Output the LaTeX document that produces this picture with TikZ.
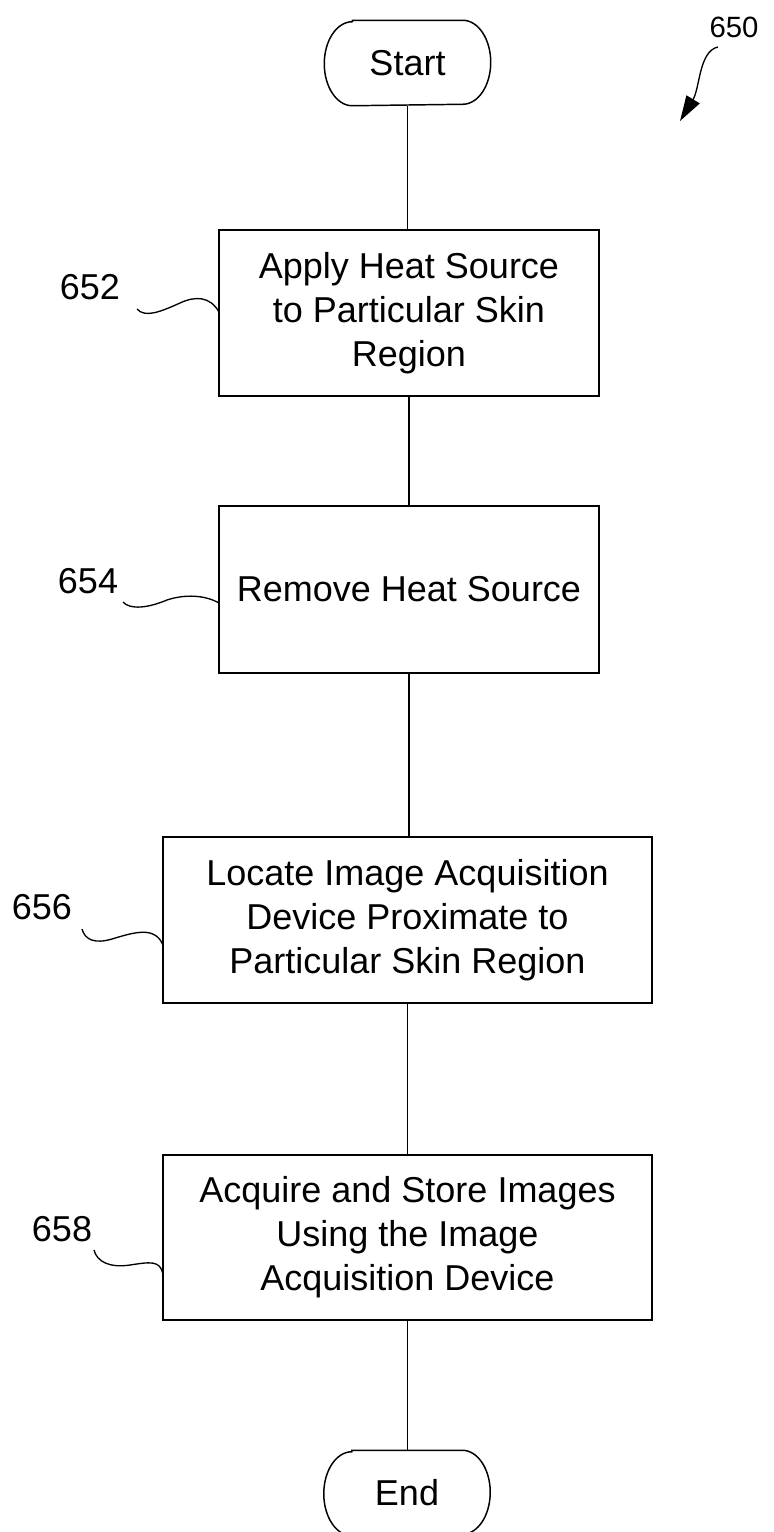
\documentclass[tikz,border=0pt]{standalone}
\usepackage{fontspec}
\setmainfont{Liberation Sans}
\usetikzlibrary{arrows.meta}
\begin{document}
\begin{tikzpicture}[x=0.75pt,y=-0.75pt,
  line width=1.1pt,
  stepbox/.style={draw, rectangle, inner sep=0pt, align=center,
    font=\fontsize{27}{33}\selectfont},
  termnode/.style={draw=none, inner sep=0pt, minimum width=123.75pt, minimum height=63pt,
    font=\fontsize{27}{33}\selectfont},
  reflabel/.style={inner sep=0pt, font=\fontsize{27}{33}\selectfont},
  leader/.style={line width=1pt}
]
\useasboundingbox (0,0) rectangle (774,1532);

% terminals
\node[termnode] (start) at (407.5,63) {Start};
\node[termnode] (end) at (407,1493) {End};
\foreach \n in {start,end}{
  \draw ([xshift=21pt]\n.north west) -- ([xshift=-21pt]\n.north east)
    arc[start angle=90,end angle=-90,x radius=21pt,y radius=31.5pt]
    -- ([xshift=21pt]\n.south west)
    arc[start angle=270,end angle=90,x radius=21pt,y radius=31.5pt] -- cycle;
}

% process boxes
\node[stepbox, minimum width=285pt, minimum height=124.5pt] (b652) at (409,313)
  {Apply Heat Source\\to Particular Skin\\Region};
\node[stepbox, minimum width=285pt, minimum height=125.25pt] (b654) at (409,589.5)
  {Remove Heat Source};
\node[stepbox, minimum width=366.75pt, minimum height=124.5pt] (b656) at (407.5,920)
  {Locate Image Acquisition\\Device Proximate to\\Particular Skin Region};
\node[stepbox, minimum width=366.75pt, minimum height=123.75pt] (b658) at (407.5,1237.5)
  {Acquire and Store Images\\Using the Image\\Acquisition Device};

% connectors
\draw (start.south) -- (start.south |- b652.north);
\draw (b652.south) -- (b652.south |- b654.north);
\draw (b654.south) -- (b654.south |- b656.north);
\draw (b656.south) -- (b656.south |- b658.north);
\draw (b658.south) -- (b658.south |- end.north);

% reference labels
\node[reflabel] (l652) at (90,287) {652};
\node[reflabel] (l654) at (88,581) {654};
\node[reflabel] (l656) at (42,907) {656};
\node[reflabel] (l658) at (62,1229) {658};
\node[reflabel, font=\fontsize{22}{26}\selectfont] (l650) at (734,27) {650};

% leader squiggles
\draw[leader] (137,309) .. controls (145,318) and (160,312) .. (180,303)
  .. controls (195,296) and (210,296) .. (219,312);
\draw[leader] (123,602) .. controls (130,610) and (148,608) .. (167,600)
  .. controls (185,594) and (205,595) .. (219,603);
\draw[leader] (82,929) .. controls (85,940) and (95,944) .. (112,939)
  .. controls (135,932) and (155,926) .. (163,945);
\draw[leader] (94,1250) .. controls (97,1262) and (110,1268) .. (130,1265)
  .. controls (150,1262) and (160,1260) .. (163,1274);

% 650 pointer
\coordinate (p650s) at (718,47);
\coordinate (p650e) at (680,121);
\draw[leader, -{Triangle[length=19pt,width=11.5pt]}] (p650s)
  .. controls (699,51) and (700,88) .. (p650e);
\end{tikzpicture}
\end{document}
